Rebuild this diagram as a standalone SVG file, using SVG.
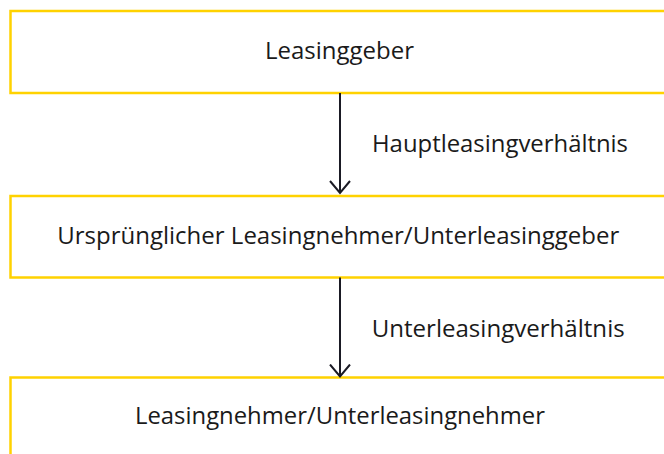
<svg xmlns="http://www.w3.org/2000/svg" width="664" height="454" viewBox="0 0 664 454">
  <style>
    .box { fill: #ffffff; stroke: #FFD200; stroke-width: 2.5; }
    .lbl { font-family: "Open Sans", "Liberation Sans", sans-serif; font-size: 23px; fill: #1a1a1a; }
    .conn { stroke: #1a1a24; stroke-width: 2; fill: none; }
  </style>
  <defs>
    <marker id="arrow" markerUnits="userSpaceOnUse" markerWidth="16" markerHeight="24" refX="13" refY="11" viewBox="0 0 16 22" orient="auto">
      <path d="M1,1 L13,11 L1,21" fill="none" stroke="#1a1a24" stroke-width="2"/>
    </marker>
  </defs>
  <rect width="664" height="454" fill="#ffffff"/>
  <g id="node-leasinggeber">
    <rect class="box" x="10.5" y="11" width="670" height="82"/>
    <text class="lbl" x="265" y="59.3" textLength="149" lengthAdjust="spacingAndGlyphs">Leasinggeber</text>
  </g>
  <g id="node-unterleasinggeber">
    <rect class="box" x="10.5" y="196" width="670" height="81.5"/>
    <text class="lbl" x="57.3" y="244" textLength="562" lengthAdjust="spacingAndGlyphs">Ursprünglicher Leasingnehmer/Unterleasinggeber</text>
  </g>
  <g id="node-leasingnehmer">
    <rect class="box" x="10.5" y="377.5" width="670" height="100"/>
    <text class="lbl" x="135" y="424.3" textLength="410" lengthAdjust="spacingAndGlyphs">Leasingnehmer/Unterleasingnehmer</text>
  </g>
  <g id="connectors">
    <path class="conn" d="M340,93 V193" marker-end="url(#arrow)"/>
    <text class="lbl" x="372" y="151.7" textLength="256" lengthAdjust="spacingAndGlyphs">Hauptleasingverhältnis</text>
    <path class="conn" d="M340,277.5 V376.5" marker-end="url(#arrow)"/>
    <text class="lbl" x="371.7" y="336.7" textLength="253" lengthAdjust="spacingAndGlyphs">Unterleasingverhältnis</text>
  </g>
</svg>
